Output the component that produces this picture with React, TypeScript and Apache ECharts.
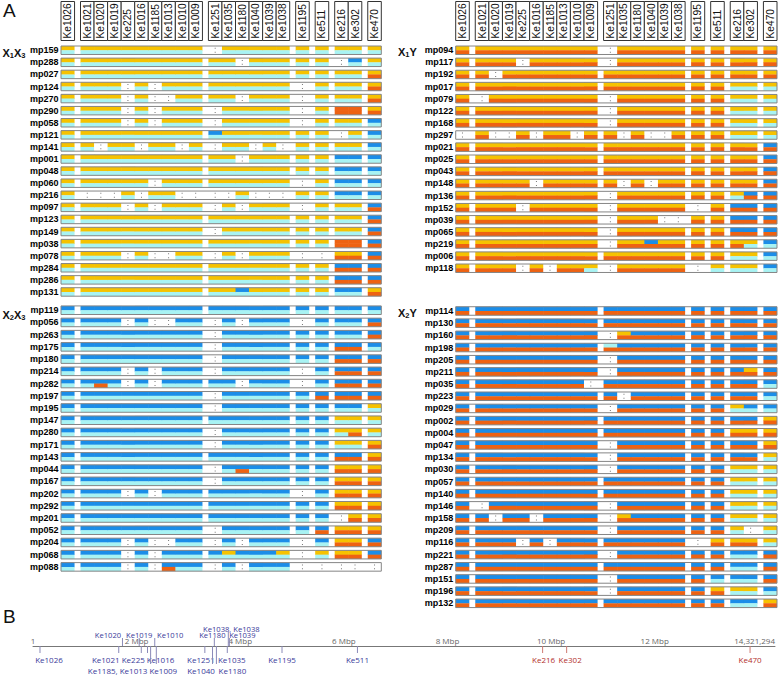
import React, { useEffect, useRef } from 'react';
import * as echarts from 'echarts';

// ---------- DATA ----------
const markers = ['Ke1026', 'Ke1021', 'Ke1020', 'Ke1019', 'Ke225', 'Ke1016', 'Ke1185', 'Ke1013', 'Ke1010', 'Ke1009',
  'Ke1251', 'Ke1035', 'Ke1180', 'Ke1040', 'Ke1039', 'Ke1038', 'Ke1195', 'Ke511', 'Ke216', 'Ke302', 'Ke470'];
// number of marker columns in each block
const markerBlocks = [1, 9, 6, 1, 1, 2, 1];

// genotype calls: two letters per marker (upper / lower haplotype); Y gold, O orange, B blue, C cyan, -- missing
const x1x3Ids = ['mp159', 'mp288', 'mp027', 'mp124', 'mp270', 'mp290', 'mp058', 'mp121', 'mp141', 'mp001', 'mp048',
  'mp060', 'mp216', 'mp097', 'mp123', 'mp149', 'mp038', 'mp078', 'mp284', 'mp286', 'mp131'];
const x1x3Calls = [
  'YC | YC YC YC YC YC YC YC YC YC | -- YC YC YC YC YC | YC | YC | YC YC | YC',
  'YC | YC YC YC YC YC YC YC YC YC | YC YC -- YC YC YC | YC | YC | -- BC | YC',
  'YC | YC YC YC YC YC YC YC YC YC | YC YC YC YC YC YC | YC | YC | YC YC | YO',
  'YC | YC YC YC -- YC -- YC YC YC | YC YC YC YC YC YC | -- | YC | YC YC | YO',
  'YC | YC YC YC -- YC -- -- YC YC | YC YC -- YC YC YC | -- | YC | YC YC | YO',
  'YC | YC YC YC -- YC -- YC YC YC | -- YC YC YC YC YC | -- | YC | OO OO | YO',
  'YC | YC YC YC -- YC -- YC YC YC | -- YC YC YC YC YC | -- | YC | YC YC | BC',
  'YC | YC YC YC YC YC YC YC YC YC | BC YC YC YC YC YC | YC | YC | -- YC | BC',
  'YC | YC -- YC YC -- YC YC -- YC | -- YC YC -- YC -- | YC | YC | YC YC | BC',
  'YC | YC YC YC YC YC YC YC YC YC | YC YC -- YC YC YC | YC | YC | BC BC | BC',
  'YC | YC YC YC YC YC YC YC YC YC | YC YC YC YC YC YC | YC | YC | BC BC | BC',
  'YC | YC YC YC YC YC -- YC YC YC | YC YC YC YC YC YC | -- | YC | BC BC | BC',
  'YC | -- -- -- YC -- YC YC -- -- | -- -- YC -- -- -- | YC | YC | BC BC | BC',
  'YC | YC YC YC -- YC -- YC YC YC | -- YC -- YC YC YC | -- | YC | YC YC | BO',
  'YC | YC YC YC YC YC YC YC YC YC | YC YC YC YC YC YC | YC | YC | YC YC | BO',
  'YC | YC YC YC YC YC YC YC YC YC | -- YC YC YC YC YC | YC | YC | YC YC | BO',
  'YC | YC YC YC YC YC YC YC YC YC | YC YC YC YC YC YC | YC | YC | OO OO | BO',
  'YC | YC YC YC -- YC -- -- YC YC | -- YC -- YC YC YC | -- | -- | YO YO | BO',
  'YC | YC YC YC YC YC YC YC YC YC | YC YC YC YC YC YC | YC | YC | BO BO | BO',
  'YC | YC YC YC YC YC YC YC YC YC | YC YC YC YC YC YC | YC | YC | BO BO | BO',
  'YC | YC YC YC YC YC YC YC YC YC | YC YC BC YC YC YC | YC | YC | BC BC | YO',
];

const x2x3Ids = ['mp119', 'mp056', 'mp263', 'mp175', 'mp180', 'mp214', 'mp282', 'mp197', 'mp195', 'mp147', 'mp280',
  'mp171', 'mp143', 'mp044', 'mp167', 'mp202', 'mp292', 'mp201', 'mp052', 'mp204', 'mp068', 'mp088'];
const x2x3Calls = [
  'BC | BC BC BC BC BC BC BC BC BC | BC BC BC BC BC BC | BC | BC | BC BC | BC',
  'BC | BC BC BC -- BC -- -- BC BC | -- BC -- BC BC BC | -- | BC | BC BC | BO',
  'BC | BC BC BC BC BC BC BC BC BC | -- BC BC BC BC BC | BC | BC | BC BC | BO',
  'BC | BC BC BC BC BC BC BC BC BC | -- BC BC BC BC BC | BC | BC | BO BO | BC',
  'BC | BC BC BC BC BC BC BC BC BC | -- BC BC BC BC BC | BC | BC | BO BO | BO',
  'BC | BC BC BC -- BC -- BC BC BC | -- BC BC BC BC BC | -- | BC | BO BO | BO',
  'BC | BC BO BC -- BC -- BC BC BC | BC BC -- BC BC BC | -- | BC | BO BO | BO',
  'BC | BC BC BC BC BC BC BC BC BC | -- BC BC BC BC BC | BC | BO | BO BO | BO',
  'BC | BC BC BC BC BC BC BC BC BC | -- BC BC BC BC BC | BC | BC | BC BC | YC',
  'BC | BC BC BC BC BC BC BC BC BC | BC BC BC BC BC BC | BC | BC | YC YC | YC',
  'BC | BC BC BC BC BC BC BC BC BC | -- BC BC BC BC BC | BC | BC | YC YO | YC',
  'BC | BC BC BC BC BC BC BC BC BC | -- BC BC BC BC BC | BC | BC | YC YC | YO',
  'BC | BC BC BC BC BC BC BC BC BC | BC BC BC BC BC BC | BC | BC | BO BO | YO',
  'BC | BC BC BC BC BC BC BC BC BC | -- BC BO BC BC BC | BC | BC | YO YO | YO',
  'BC | BC BC BC BC BC BC BC BC BC | -- BC BC BC BC BC | BC | BC | YO YO | YO',
  'BC | BC BC BC -- BC -- BC BC BC | BC BC BC BC BC BC | -- | BC | YO YO | YO',
  'BC | BC BC BC BC BC BC BC BC BC | BC BC BC BC BC BC | BC | BC | YO YO | YO',
  'BC | BC BC BC BC BC BC BC BC BC | BC BC BC BC BC BC | BC | BC | -- YO | YO',
  'BC | BC BC BC BC BC BC BC BC BC | -- BC BC BC BC BC | BC | BO | YO YO | YO',
  'BC | BC BC BC -- BC -- -- BC BC | -- BC -- BC BC BC | -- | BC | YO YO | BO',
  'BC | BC BC BC -- BC -- BC BC BC | BC YC BC BC BC YC | -- | YC | YO YO | BO',
  'BC | BC BC BC -- BC -- BO BC BC | -- BC -- BC BC BC | -- | -- | -- -- | --',
];

const x1yIds = ['mp094', 'mp117', 'mp192', 'mp017', 'mp079', 'mp122', 'mp168', 'mp297', 'mp021', 'mp025', 'mp043',
  'mp148', 'mp136', 'mp152', 'mp039', 'mp065', 'mp219', 'mp006', 'mp118'];
const x1yCalls = [
  'YO | YO YO YO YO YO YO YO YO YO | -- YO YO YO YO YO | YO | YO | YO YO | YO',
  'YO | YO YO YO -- YO YO YO YO YO | -- YO YO YO YO YO | YO | YO | YO YO | YO',
  'YO | YO -- YO YO YO YO YO YO YO | YO YO YO YO YO YO | YO | YO | YO YO | YO',
  'YO | YO YO YO YO YO YO YO YO YO | YO YO YO YO YO YO | YO | YO | YC YC | YC',
  'YO | -- YO YO YO YO YO YO YO YO | -- YO YO YO YO YO | YO | YO | YC YC | YC',
  'YO | YO YO YO YO YO YO YO YO YO | -- YO YO YO YO YO | YO | YO | YC YC | YC',
  'YO | YO YO YO YO YO YO YO YO YO | -- YO YO YO YO YO | YO | YO | YC YC | YC',
  '-- | YO -- -- YO -- YO YO -- YO | YO -- YO -- -- YO | YO | YO | YC YC | YC',
  'YO | YO YO YO YO YO YO YO YO YO | YO YO YO YO YO YO | YO | YO | YO YO | BO',
  'YO | YO YO YO YO YO YO YO YO YO | YO YO YO YO YO YO | YO | YO | YO YO | BO',
  'YO | YO YO YO YO YO YO YO YO YO | YO YO YO YO YO YO | YO | YO | YO YO | BO',
  'YO | YO YO YO YO -- YO YO YO YO | YO -- YO -- YO YO | YO | YO | YO YO | BO',
  'YO | YO YO YO YO YO YO YO YO YO | -- YO YO YO YO YO | YO | YO | YC BO | BO',
  'YO | YO YO YO -- YO YO YO YO YO | -- YO YO YO YO YO | -- | YO | BO BO | BO',
  'YO | YO YO YO YO YO YO YO YO YO | -- YO YO YO -- -- | YO | YO | BO BO | BO',
  'YO | YO YO YO YO YO YO YO YO YO | -- YO YO YO YO YO | YO | YO | BO BO | BO',
  'YO | YO YO YO YO YO YO YO YO YO | -- YO YO BO YO YO | YO | YO | YO YC | BC',
  'YO | YO YO YO YO YO YO YO YO YO | YO YO YO YO YO YO | YO | YO | YC YC | BC',
  'YO | YO YO YO -- YO -- YO YO YC | -- YO YO YO YO YO | -- | YC | YC YC | BC',
];

const x2yIds = ['mp114', 'mp130', 'mp160', 'mp198', 'mp205', 'mp211', 'mp035', 'mp223', 'mp029', 'mp002', 'mp004',
  'mp047', 'mp134', 'mp030', 'mp057', 'mp140', 'mp146', 'mp158', 'mp209', 'mp116', 'mp221', 'mp287', 'mp151',
  'mp196', 'mp132'];
const x2yCalls = [
  'BO | BO BO BO BO BO BO BO BO BO | BO BO BO BO BO BO | BO | BO | BO BO | BO',
  'BO | BO BO BO BO BO BO BO BO BO | BO BO BO BO BO BO | BO | BO | BO BO | BO',
  'BO | BO BO BO BO BO BO BO BO BO | -- YO BO BO BO BO | BO | BO | BO BO | BO',
  'BO | BO BO BO BO BO BO BO BO BO | CO BO BO BO BO BO | BO | BO | BO BO | BO',
  'BO | BO BO BO BO BO BO BO BO BO | -- BO BO BO BO BO | BO | BO | BO BO | BO',
  'BO | BO BO BO BO BO BO BO BO BO | -- BO BO BO BO BO | BO | BO | BO YO | BO',
  'BO | BO BO BO BO BO BO BO BO -- | BO BO BO BO BO BO | BO | BO | BO BO | BC',
  'BO | BO BO BO BO BO BO BO BO BO | BO -- BO BO BO BO | BO | BO | BO BO | BC',
  'BO | BO BO BO BO BO BO BO BO BO | -- BO BO BO BO BO | BO | BO | YC BC | BC',
  'BO | BO BO BO BO BO BO BO BO BO | BO BO BO BO BO BO | BO | BO | BO BO | YO',
  'BO | BO BO BO BO BO BO BO BO BO | BO BO BO BO BO BO | BO | BO | YO YO | YO',
  'BO | BO BO BO BO BO BO BO BO BO | -- BO BO BO BO BO | BO | BO | BO BO | YO',
  'BO | BO BO BO BO BO BO BO BO BO | -- BO BO BO BO BO | BO | BO | BO BO | YC',
  'BO | BO BO BO BO BO BO BO BO BO | -- BO BO BO BO BO | BO | BO | YC YC | YC',
  'BO | BO BO BO BO BO BO BO BO BO | BO BO BO BO BO BO | BO | BO | YC YC | YC',
  'BO | BO BO BO BO BO BO BO BO BO | BO BO BO BO BO BO | BO | BO | YC YC | YC',
  'BO | -- BO BO BO BO BO BO BO BO | -- BO BO BO BO BO | BO | BO | YC YC | YC',
  'BO | BO -- BO BO -- BO BO BO BO | -- YO BO BO BO BO | BO | BO | YC YC | YC',
  'BO | BO BO BO BO BO BO BO BO BO | -- BO BO BO BO BO | BO | BO | YC -- | YC',
  'BO | BO BO BO -- BO -- BO BO BO | BO BO BO BO BO BO | -- | YO | YO YO | YC',
  'BO | BO BO BO BO BO BO BO BO BO | -- BO BO BO BO BO | BO | BO | BC BC | BO',
  'BO | BO BO BO BO BO BO BO BO BO | BO BO BO BO BO BO | BO | BO | BC BC | BO',
  'BO | BO BO BO BO BO BO BO BO BO | -- BO BO BO BO BO | BO | BC | BC BC | BO',
  'BO | BO BO BO BO BO BO BO BO BO | -- BO BO BO BO BO | BO | YO | YC YC | BC',
  'BO | BO BO BO BO BO BO BO BO BO | BO BO BO BO BO BO | BO | BO | BC BC | YO',
];

// physical map (panel B)
const mapLabels = ['Ke1026', 'Ke1021', 'Ke1020', 'Ke1019', 'Ke225', 'Ke1016', 'Ke1185, Ke1013', 'Ke1010', 'Ke1009',
  'Ke1251', 'Ke1040', 'Ke1180', 'Ke1180', 'Ke1035', 'Ke1039', 'Ke1038, Ke1038', 'Ke1195', 'Ke511', 'Ke216', 'Ke302', 'Ke470'];
const mapMbp = [0.135, 1.655, 1.727, 2.05, 2.09, 2.21, 2.27, 2.35, 2.38,
  3.317, 3.465, 3.54, 3.5, 3.75, 3.79, 3.77, 4.806, 6.262, 9.836, 10.30, 13.84];
const chromosomeLength = 14.321294;
const mapTickLabels = { start: '1', end: '14,321,294', unit: 'Mbp' };

// ---------- LAYOUT / STYLE ----------
const mapSide = [1, 1, -1, -1, 1, 1, 2, -1, 2, 1, 2, 2, -1, 1, -1, -2, 1, 1, 1, 1, 1];
const mapDx = [9, -13, -14.5, 0, -8, 13, -33, 15.5, 7, -4, -11.5, 16, -2, 4.5, 13, 3, 0, 0, 1, 3.5, 0];
const mapRed = [0, 0, 0, 0, 0, 0, 0, 0, 0, 0, 0, 0, 0, 0, 0, 0, 0, 0, 1, 1, 1];

const COLORS: Record<string, string> = { Y: '#F6C200', O: '#EE6212', B: '#1B8DE8', C: '#A8F3F3' };
const GAP = 0.44;
const colStart: number[] = [];
const colBlock: number[] = [];
let acc = 0;
markerBlocks.forEach((n, bi) => {
  if (bi) acc += GAP;
  for (let k = 0; k < n; k++) { colStart.push(acc); colBlock.push(bi); acc += 1; }
});
const TOTAL = acc;

const parse = (s: string) => s.split(/\s+/).filter((t) => t && t !== '|');

const panels = [
  { ids: x1x3Ids, calls: x1x3Calls, grid: { left: 61, width: 320.3, top: 44.2, height: 253.8 }, header: true, title: ['1', '3'], tx: 2.5, ty: 46 },
  { ids: x2x3Ids, calls: x2x3Calls, grid: { left: 61, width: 320.3, top: 304.1, height: 268.9 }, header: false, title: ['2', '3'], tx: 2.5, ty: 308.7 },
  { ids: x1yIds, calls: x1yCalls, grid: { left: 455.7, width: 321.3, top: 44.2, height: 230.1 }, header: true, title: ['1', 'Y'], tx: 398, ty: 45.5 },
  { ids: x2yIds, calls: x2yCalls, grid: { left: 455.7, width: 321.3, top: 304.9, height: 304.5 }, header: false, title: ['2', 'Y'], tx: 398, ty: 306.5 },
];

const FONT = 'Liberation Sans';

function rowRenderer(calls: string[][]) {
  return (params: any, api: any) => {
    const i = params.dataIndex;
    const tokens = calls[i];
    const [xL, yc] = api.coord([0, i]);
    const xR = api.coord([TOTAL, i])[0];
    const band = api.size([0, 1])[1];
    const h = band * 0.7;
    const y0 = yc - h / 2;
    const children: any[] = [];
    tokens.forEach((tk, c) => {
      const x0 = api.coord([colStart[c], i])[0];
      const x1 = api.coord([colStart[c] + 1, i])[0];
      const w = x1 - x0;
      if (tk === '--') {
        children.push({ type: 'rect', shape: { x: x0 + w / 2 - 0.5, y: y0 + h * 0.27 - 0.5, width: 1, height: 1 }, style: { fill: '#777' } });
        children.push({ type: 'rect', shape: { x: x0 + w / 2 - 0.5, y: y0 + h * 0.73 - 0.5, width: 1, height: 1 }, style: { fill: '#777' } });
      } else {
        const ext = c < tokens.length - 1 && colBlock[c + 1] === colBlock[c] && tokens[c + 1] !== '--' ? 0.6 : 0;
        children.push({ type: 'rect', shape: { x: x0, y: y0, width: w + ext, height: h / 2 + 0.3 }, style: { fill: COLORS[tk[0]] } });
        children.push({ type: 'rect', shape: { x: x0, y: y0 + h / 2, width: w + ext, height: h / 2 }, style: { fill: COLORS[tk[1]] } });
      }
    });
    children.push({ type: 'rect', shape: { x: xL, y: y0, width: xR - xL, height: h }, style: { fill: 'none', stroke: '#858585', lineWidth: 1 } });
    return { type: 'group', children };
  };
}

const headerRender = (params: any, api: any) => {
  const c = params.dataIndex;
  const x0 = api.coord([colStart[c], 0])[0];
  const x1 = api.coord([colStart[c] + 1, 0])[0];
  const gridTop = api.coord([0, 0])[1] - api.size([0, 1])[1] / 2;
  const bottom = gridTop - 3.7;
  const top = 1.5;
  return {
    type: 'group',
    children: [
      { type: 'rect', shape: { x: x0, y: top, width: x1 - x0, height: bottom - top }, style: { fill: '#fff', stroke: '#333', lineWidth: 1 } },
      {
        type: 'text', x: (x0 + x1) / 2, y: bottom - 2, rotation: Math.PI / 2,
        style: { text: markers[c], fontSize: 10.2, fontFamily: FONT, fill: '#111', align: 'left', verticalAlign: 'middle' },
      },
    ],
  };
};

const mapRender = (params: any, api: any) => {
  const i = params.dataIndex;
  const [x, yA] = api.coord([mapMbp[i], 0]);
  const side = mapSide[i];
  const red = mapRed[i] === 1;
  const txt = red ? '#b3302b' : '#3a3a9a';
  const tick = red ? '#cf7a72' : '#8a8ab8';
  const tickEnd = side === 1 ? yA + 7 : side === 2 ? yA + 18 : side === -1 ? yA - 8 : yA - 14;
  const labelY = side === 1 ? yA + 13.5 : side === 2 ? yA + 24.5 : side === -1 ? yA - 11 : yA - 17.5;
  return {
    type: 'group',
    children: [
      { type: 'line', shape: { x1: x, y1: yA, x2: x, y2: tickEnd }, style: { stroke: tick, lineWidth: 1 } },
      {
        type: 'text', x: x + mapDx[i], y: labelY,
        style: { text: mapLabels[i], fontSize: side < 0 ? 7.6 : 8, fontFamily: 'Open Sans', fill: txt, align: 'center', verticalAlign: 'middle' },
      },
    ],
  };
};

export default function App() {
  const ref = useRef<HTMLDivElement>(null);
  useEffect(() => {
    if (!ref.current) return;
    const chart = echarts.init(ref.current, undefined, { renderer: 'svg' });
    const grids: any[] = [];
    const xAxes: any[] = [];
    const yAxes: any[] = [];
    const series: any[] = [];
    const graphic: any[] = [
      { type: 'text', x: 3, y: 1, style: { text: 'A', fontSize: 19, fontFamily: FONT, fill: '#111' } },
      { type: 'text', x: 3, y: 607, style: { text: 'B', fontSize: 19, fontFamily: FONT, fill: '#111' } },
    ];
    panels.forEach((p, k) => {
      grids.push({ ...p.grid });
      xAxes.push({ gridIndex: k, type: 'value', min: 0, max: TOTAL, show: false });
      yAxes.push({
        gridIndex: k, type: 'category', inverse: true, data: p.ids,
        axisLine: { show: false }, axisTick: { show: false }, splitLine: { show: false },
        axisLabel: { fontWeight: 'bold', fontSize: 9, fontFamily: FONT, color: '#000', margin: 2.5 },
      });
      const parsed = p.calls.map(parse);
      series.push({
        type: 'custom', xAxisIndex: k, yAxisIndex: k, renderItem: rowRenderer(parsed),
        data: p.ids.map((_, i) => [0, i]), silent: true,
      });
      if (p.header) {
        series.push({
          type: 'custom', xAxisIndex: k, yAxisIndex: k, renderItem: headerRender,
          data: markers.map((_, c) => [colStart[c], 0]), silent: true,
        });
      }
      graphic.push({
        type: 'text', x: p.tx, y: p.ty,
        style: {
          text: `{a|X}{s|${p.title[0]}}{a|${p.title[1] === 'Y' ? 'Y' : 'X'}}${p.title[1] === 'Y' ? '' : `{s|${p.title[1]}}`}`,
          rich: {
            a: { fontSize: 11, fontWeight: 'bold', fontFamily: FONT, fill: '#111', lineHeight: 13 },
            s: { fontSize: 7.5, fontWeight: 'bold', fontFamily: FONT, fill: '#111', lineHeight: 7, verticalAlign: 'bottom' },
          },
          verticalAlign: 'top',
        },
      });
    });
    // panel B
    grids.push({ left: 33, right: 1, top: 600, height: 46 });
    xAxes.push({
      gridIndex: 4, type: 'value', min: 0, max: chromosomeLength, interval: 2, position: 'bottom',
      axisLine: { show: true, lineStyle: { color: '#777', width: 1 } },
      axisTick: { show: false }, splitLine: { show: false },
      axisLabel: {
        inside: true, margin: 1.5, fontSize: 8, color: '#666', fontFamily: 'Open Sans',
        showMinLabel: true, showMaxLabel: true, alignMaxLabel: 'right',
        formatter: (v: number) => {
          if (v === 0) return mapTickLabels.start;
          if (v >= chromosomeLength - 1e-6) return mapTickLabels.end;
          if (chromosomeLength - v < 1) return '';
          return `${v} ${mapTickLabels.unit}`;
        },
      },
    });
    yAxes.push({ gridIndex: 4, type: 'value', min: 0, max: 1, show: false });
    series.push({
      type: 'custom', xAxisIndex: 4, yAxisIndex: 4, renderItem: mapRender,
      data: mapMbp.map((v) => [v, 0]), silent: true,
    });

    chart.setOption({
      animation: false,
      backgroundColor: '#fff',
      grid: grids,
      xAxis: xAxes,
      yAxis: yAxes,
      series,
      graphic,
    });
    return () => chart.dispose();
  }, []);
  return <div ref={ref} style={{ position: 'absolute', left: 0, top: 0, width: 778, height: 677 }} />;
}
